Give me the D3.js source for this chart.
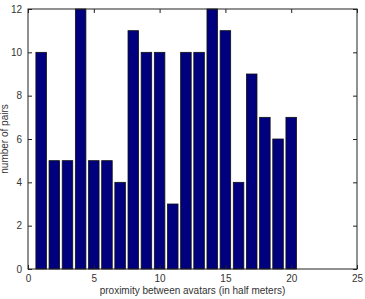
<!DOCTYPE html>
<html>
<head>
<meta charset="utf-8">
<script src="https://cdn.jsdelivr.net/npm/d3@7"></script>
<style>
  body { margin: 0; background: #fff; }
  text { font-family: "Liberation Sans", Arial, sans-serif; }
</style>
</head>
<body>
<svg width="365" height="299"></svg>
<script>
// bar positions and counts
const positions = [1,2,3,4,5,6,7,8,9,10,11,12,13,14,15,16,17,18,19,20];
const counts = [10,5,5,12,5,5,4,11,10,10,3,10,10,12,11,4,9,7,6,7];
const xTicks = [0,5,10,15,20,25];
const yTicks = [0,2,4,6,8,10,12];

const svg = d3.select('svg');
const mLeft = 28, mRight = 357, mTop = 9, mBottom = 269;

const x = d3.scaleLinear().domain([0, 25]).range([mLeft, mRight]);
const y = d3.scaleLinear().domain([0, 12]).range([mBottom, mTop]);
const barW = x(0.8) - x(0);

// bars
svg.selectAll('rect.bar')
  .data(positions)
  .enter().append('rect')
  .attr('class', 'bar')
  .attr('x', (d) => x(d) - barW / 2)
  .attr('y', (d, i) => y(counts[i]))
  .attr('width', barW)
  .attr('height', (d, i) => y(0) - y(counts[i]))
  .attr('fill', '#00007f')
  .attr('stroke', '#111')
  .attr('stroke-width', 0.8);

// axes with inward ticks, MATLAB style box
const tickLen = 4;
svg.append('g').attr('transform', `translate(0,${mBottom})`)
  .call(d3.axisBottom(x).tickValues(xTicks).tickSizeInner(-tickLen).tickSizeOuter(0).tickPadding(6))
  .call(g => g.select('.domain').remove());
svg.append('g').attr('transform', `translate(0,${mTop})`)
  .call(d3.axisTop(x).tickValues(xTicks).tickSizeInner(-tickLen).tickSizeOuter(0).tickFormat(''))
  .call(g => g.select('.domain').remove());
svg.append('g').attr('transform', `translate(${mLeft},0)`)
  .call(d3.axisLeft(y).tickValues(yTicks).tickSizeInner(-tickLen).tickSizeOuter(0).tickPadding(6))
  .call(g => g.select('.domain').remove());
svg.append('g').attr('transform', `translate(${mRight},0)`)
  .call(d3.axisRight(y).tickValues(yTicks).tickSizeInner(-tickLen).tickSizeOuter(0).tickFormat(''))
  .call(g => g.select('.domain').remove());

svg.selectAll('.tick line').attr('stroke', '#222');
svg.selectAll('.tick text').attr('font-size', 10).attr('fill', '#333');

svg.append('rect')
  .attr('x', mLeft).attr('y', mTop)
  .attr('width', mRight - mLeft).attr('height', mBottom - mTop)
  .attr('fill', 'none').attr('stroke', '#222').attr('stroke-width', 1);

// labels
svg.append('text')
  .attr('x', (mLeft + mRight) / 2).attr('y', 294)
  .attr('text-anchor', 'middle').attr('font-size', 10).attr('fill', '#333')
  .text('proximity between avatars (in half meters)');
svg.append('text')
  .attr('transform', `translate(8,${(mTop + mBottom) / 2}) rotate(-90)`)
  .attr('text-anchor', 'middle').attr('font-size', 10).attr('fill', '#333')
  .text('number of pairs');
</script>
</body>
</html>
